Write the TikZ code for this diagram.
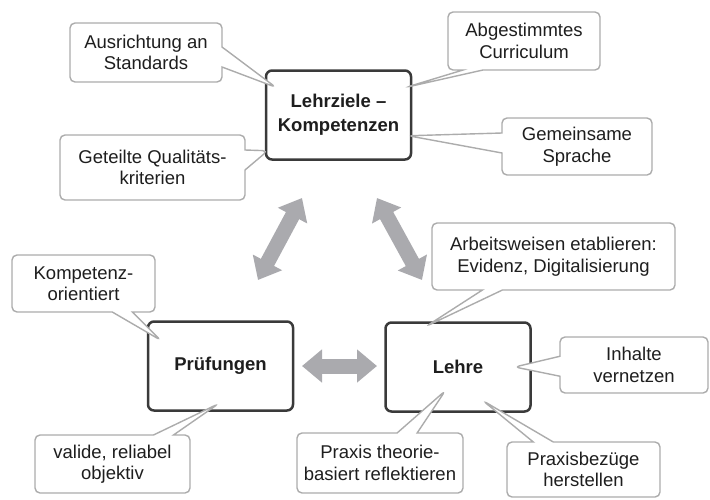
\documentclass[tikz,border=0pt]{standalone}
\usepackage{fontspec}
\setmainfont{Liberation Sans}
\usetikzlibrary{arrows.meta, shapes.callouts, calc}

\definecolor{boxgray}{RGB}{58,58,58}
\definecolor{callgray}{RGB}{172,172,172}
\definecolor{arrowgray}{RGB}{170,170,174}
\definecolor{textgray}{RGB}{30,30,30}

\tikzset{
  mainbox/.style={draw=boxgray, line width=2.5pt, rounded corners=6pt, fill=white,
    minimum width=145pt, minimum height=89pt, align=center, text=textgray,
    font=\fontsize{18.5}{24}\selectfont\bfseries},
  callbox/.style={rectangle callout, draw=callgray, line width=1.4pt, rounded corners=5pt,
    fill=white, align=center, inner sep=2pt, text=textgray, callout pointer width=20pt,
    font=\fontsize{18.5}{21.5}\selectfont},
  bigarrow/.style={draw=arrowgray, line width=15pt,
    {Triangle[length=20pt,width=32pt]}-{Triangle[length=20pt,width=32pt]}}
}

\begin{document}
\begin{tikzpicture}[x=1pt, y=-1pt]
    \useasboundingbox (0,0) rectangle (710,499);

    % Main boxes
    \node[mainbox] (lz) at (338.5,115) {Lehrziele --\\Kompetenzen};
    \node[mainbox] (pr) at (220.5,366) {Prüfungen};
    \node[mainbox] (le) at (458,367) {Lehre};

    % Callouts Lehrziele
    \node[callbox, minimum width=152pt, minimum height=59pt,
        callout absolute pointer={($(lz.north west)+(11,18)$)}] (ausr) at (146,52.5) {Ausrichtung an\\Standards};
    \node[callbox, minimum width=152pt, minimum height=58pt,
        callout absolute pointer={($(lz.north east)+(-6,18)$)}] (abge) at (524,41) {Abgestimmtes\\Curriculum};
    \node[callbox, minimum width=150pt, minimum height=57pt,
        callout absolute pointer={($(lz.south east)+(-4,-25)$)}] (gems) at (577,146.5) {Gemeinsame\\Sprache};
    \node[callbox, minimum width=185pt, minimum height=65pt,
        callout absolute pointer={($(lz.south west)+(3,-10)$)}] (gete) at (152.5,167.5) {Geteilte Qualitäts-\\kriterien};

    % Callouts Pruefungen
    \node[callbox, minimum width=143pt, minimum height=57pt,
        callout absolute pointer={($(pr.north west)+(14,20)$)}] (komp) at (83.5,283.5) {Kompetenz-\\orientiert};
    \node[callbox, minimum width=155pt, minimum height=58pt,
        callout absolute pointer={($(pr.south)+(-2,-8)$)}] (vali) at (112.5,464) {valide, reliabel\\objektiv};

    % Callouts Lehre
    \node[callbox, minimum width=243pt, minimum height=67pt,
        callout absolute pointer={($(le.north west)+(42,5)$)}] (arbe) at (553.5,256.5) {Arbeitsweisen etablieren:\\Evidenz, Digitalisierung};
    \node[callbox, minimum width=148pt, minimum height=56pt,
        callout absolute pointer={($(le.east)+(-17,0)$)}] (inha) at (634,365) {Inhalte\\vernetzen};
    \node[callbox, minimum width=166pt, minimum height=60pt,
        callout absolute pointer={($(le.south west)+(61,-22)$)}] (prxt) at (380,463) {Praxis theorie-\\basiert reflektieren};
    \node[callbox, minimum width=153pt, minimum height=55pt,
        callout absolute pointer={($(le.south)+(25,-12)$)}] (prxb) at (583.5,469.5) {Praxisbezüge\\herstellen};

    % Double arrows
    \coordinate (lzL) at (302,198);
    \coordinate (prT) at (258,280);
    \coordinate (lzR) at (377,198);
    \coordinate (leT) at (422,280);
    \coordinate (prR) at (302,366);
    \coordinate (leL) at (377,366);
    \draw[bigarrow] (lzL) -- (prT);
    \draw[bigarrow] (lzR) -- (leT);
    \draw[bigarrow] (prR) -- (leL);
\end{tikzpicture}
\end{document}
